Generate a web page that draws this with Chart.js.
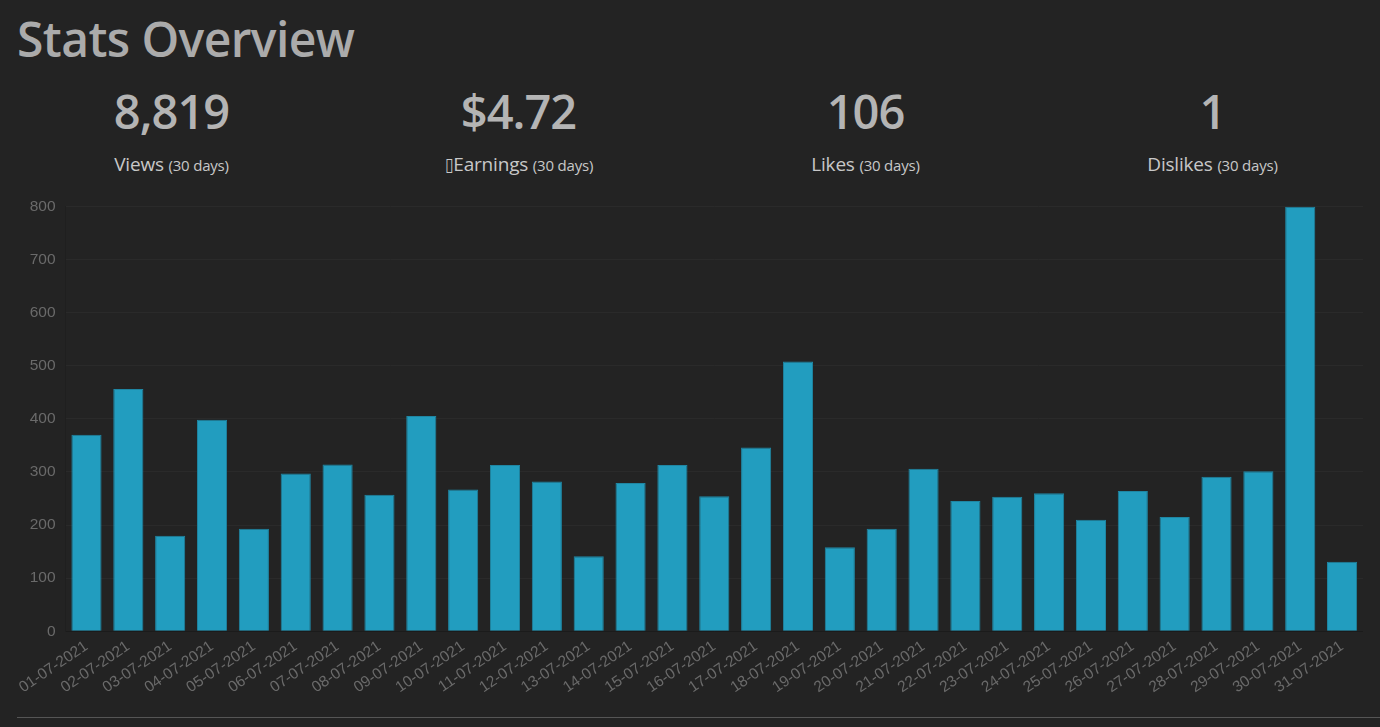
<!DOCTYPE html>
<html>
<head>
<meta charset="utf-8">
<script src="https://cdn.jsdelivr.net/npm/chart.js@4"></script>
<style>
  html, body { margin:0; padding:0; background:#232323; }
  body { width:1380px; height:727px; position:relative; overflow:hidden; font-family:"Open Sans", "Noto Sans", sans-serif; }
  h1 { position:absolute; left:17px; top:7px; margin:0; font-size:48px; font-weight:600; color:#ababab; letter-spacing:-0.6px; line-height:64px; }
  .stats { position:absolute; left:-2px; top:79px; width:1388px; display:flex; }
  .stat { width:347px; text-align:center; }
  .num { font-size:47px; font-weight:600; color:#b4b4b4; line-height:64px; letter-spacing:-1px; }
  .lbl { font-size:19px; color:#c8c8c8; margin-top:8px; letter-spacing:-0.2px; }
  .lbl small { font-size:15px; letter-spacing:-0.2px; }
  .box { font-family:'DejaVu Sans'; font-size:19px; letter-spacing:0; display:inline-block; transform:scaleX(0.8); margin-right:-1px; }
  #wrap { position:absolute; left:14px; top:187px; width:1349px; height:516px; }
  hr { position:absolute; left:17px; top:717px; width:1363px; margin:0; border:0; border-top:1px solid #555; }
</style>
</head>
<body>
<h1>Stats Overview</h1>
<div class="stats">
  <div class="stat"><div class="num">8,819</div><div class="lbl">Views <small>(30 days)</small></div></div>
  <div class="stat"><div class="num">$4.72</div><div class="lbl"><span class="box">&#x25AF;</span>Earnings <small>(30 days)</small></div></div>
  <div class="stat"><div class="num">106</div><div class="lbl">Likes <small>(30 days)</small></div></div>
  <div class="stat"><div class="num">1</div><div class="lbl">Dislikes <small>(30 days)</small></div></div>
</div>
<div id="wrap"><canvas id="c"></canvas></div>
<hr>
<script>
const days = ["01-07-2021","02-07-2021","03-07-2021","04-07-2021","05-07-2021","06-07-2021","07-07-2021","08-07-2021","09-07-2021","10-07-2021","11-07-2021","12-07-2021","13-07-2021","14-07-2021","15-07-2021","16-07-2021","17-07-2021","18-07-2021","19-07-2021","20-07-2021","21-07-2021","22-07-2021","23-07-2021","24-07-2021","25-07-2021","26-07-2021","27-07-2021","28-07-2021","29-07-2021","30-07-2021","31-07-2021"];
const views = [370,456,180,398,193,297,314,257,405,267,313,282,141,279,313,254,346,508,158,193,306,245,253,260,210,264,215,291,301,799,131];

new Chart(document.getElementById('c'), {
  type: 'bar',
  data: {
    labels: days,
    datasets: [{
      label: 'Views',
      data: views,
      backgroundColor: '#229dbf',
      borderColor: '#1f86a3',
      borderWidth: 1
    }]
  },
  options: {
    responsive: true,
    maintainAspectRatio: false,
    animation: false,
    plugins: { legend: { display: false }, tooltip: { enabled: false } },
    scales: {
      x: {
        grid: { display: false, drawTicks: false },
        border: { color: '#1b1b1b' },
        ticks: { color: '#6a6a6a', font: { family: 'Liberation Sans, Arial', size: 15.5 }, minRotation: 34, maxRotation: 34, autoSkip: false, padding: 6 }
      },
      y: {
        min: 0, max: 800,
        grid: { color: '#2a2a2a', drawTicks: false },
        border: { color: '#1f1f1f' },
        ticks: { stepSize: 100, color: '#6a6a6a', font: { family: 'Liberation Sans, Arial', size: 15.5 }, padding: 10 }
      }
    }
  }
});
</script>
</body>
</html>
